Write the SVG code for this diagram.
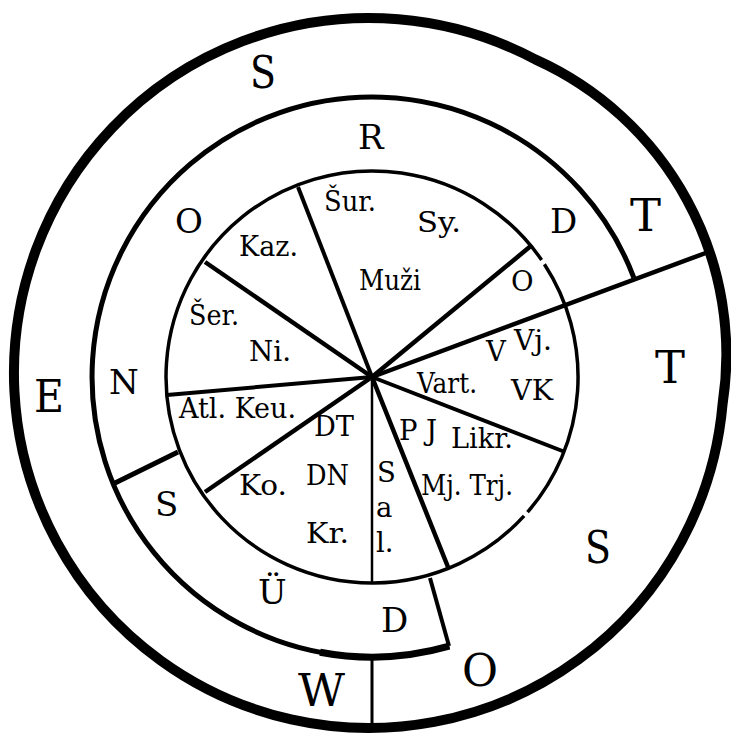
<svg xmlns="http://www.w3.org/2000/svg" width="731" height="735" viewBox="0 0 731 735">
<style>
text{font-family:"DejaVu Serif","Liberation Serif",serif;fill:#000}
.o{font-size:44px}
.m{font-size:34px}
.i{font-size:27.5px}
.ln{stroke:#000;fill:none;stroke-linecap:butt}
</style>
<rect width="731" height="735" fill="#fff"/>
<g id="rings">
<path class="ln" d="M722.6 403.9 A323.7 323.7 0 0 0 535.7 59.6 A355 355 0 1 0 722.6 403.9 Z" stroke-width="10"/>
<path class="ln" d="M633.8 277.6 A280 280 0 1 0 449.2 646.2" stroke-width="5"/>
<path class="ln" d="M320 652.2 A280 280 0 0 0 449.2 646.2" stroke-width="7" stroke-linecap="round"/>
<path class="ln" d="M544.4 264.2 A206 206 0 0 1 527.5 512.2" stroke-width="3.5"/>
<path class="ln" d="M524.1 515.9 A206 206 0 1 1 541.6 260" stroke-width="3.5"/>
</g>
<g id="connectors">
<line class="ln" x1="372" y1="377" x2="298" y2="187" stroke-width="4"/>
<line class="ln" x1="372" y1="377" x2="205" y2="262" stroke-width="4.5"/>
<line class="ln" x1="372" y1="377" x2="167" y2="395" stroke-width="4"/>
<line class="ln" x1="372" y1="377" x2="205" y2="492" stroke-width="4.5"/>
<line class="ln" x1="372" y1="377" x2="372" y2="584" stroke-width="2.5"/>
<line class="ln" x1="372" y1="377" x2="448" y2="567" stroke-width="4.5"/>
<line class="ln" x1="372" y1="377" x2="565" y2="452" stroke-width="4"/>
<line class="ln" x1="372" y1="377" x2="532" y2="245" stroke-width="4.5"/>
<line class="ln" x1="372" y1="377" x2="711" y2="251" stroke-width="4.5"/>
<line class="ln" x1="115" y1="483" x2="178" y2="452" stroke-width="5"/>
<line class="ln" x1="430" y1="578" x2="449" y2="646" stroke-width="4"/>
<line class="ln" x1="372" y1="658" x2="372" y2="728" stroke-width="3"/>
</g>
<g id="outer-labels">
<text class="o" x="250" y="88" textLength="26" lengthAdjust="spacingAndGlyphs">S</text>
<text class="o" x="630" y="231" textLength="31" lengthAdjust="spacingAndGlyphs">T</text>
<text class="o" x="655" y="383" textLength="30" lengthAdjust="spacingAndGlyphs">T</text>
<text class="o" x="34" y="412" textLength="30" lengthAdjust="spacingAndGlyphs">E</text>
<text class="o" x="585" y="563" textLength="26" lengthAdjust="spacingAndGlyphs">S</text>
<text class="o" x="462" y="686" textLength="36" lengthAdjust="spacingAndGlyphs">O</text>
<text class="o" x="298" y="706" textLength="47" lengthAdjust="spacingAndGlyphs">W</text>
</g>
<g id="middle-labels">
<text class="m" x="358" y="149">R</text>
<text class="m" x="175" y="233">O</text>
<text class="m" x="550" y="233">D</text>
<text class="m" x="109" y="394">N</text>
<text class="m" x="155" y="516">S</text>
<text class="m" x="258" y="604">Ü</text>
<text class="m" x="381" y="632">D</text>
</g>
<g id="inner-labels">
<text class="i" x="324" y="211" textLength="52" lengthAdjust="spacingAndGlyphs">Šur.</text>
<text class="i" x="417" y="232" textLength="44" lengthAdjust="spacingAndGlyphs">Sy.</text>
<text class="i" x="239" y="256" textLength="59" lengthAdjust="spacingAndGlyphs">Kaz.</text>
<text class="i" x="359" y="290" textLength="62" lengthAdjust="spacingAndGlyphs">Muži</text>
<text class="i" x="511" y="291">O</text>
<text class="i" x="189" y="325" textLength="50" lengthAdjust="spacingAndGlyphs">Šer.</text>
<text class="i" x="249" y="361" textLength="42" lengthAdjust="spacingAndGlyphs">Ni.</text>
<text class="i" x="486" y="361">V</text>
<text class="i" x="514" y="350" textLength="38" lengthAdjust="spacingAndGlyphs">Vj.</text>
<text class="i" x="417" y="393" textLength="60" lengthAdjust="spacingAndGlyphs">Vart.</text>
<text class="i" x="511" y="400" textLength="42" lengthAdjust="spacingAndGlyphs">VK</text>
<text class="i" x="179" y="418" textLength="117" lengthAdjust="spacingAndGlyphs">Atl. Keu.</text>
<text class="i" x="314" y="436" textLength="40" lengthAdjust="spacingAndGlyphs">DT</text>
<text class="i" x="399" y="440">P</text>
<text class="i" x="426" y="440">J</text>
<text class="i" x="451" y="448" textLength="62" lengthAdjust="spacingAndGlyphs">Likr.</text>
<text class="i" x="306" y="485" textLength="43" lengthAdjust="spacingAndGlyphs">DN</text>
<text class="i" x="377" y="482">S</text>
<text class="i" x="239" y="495" textLength="48" lengthAdjust="spacingAndGlyphs">Ko.</text>
<text class="i" x="421" y="495" textLength="92" lengthAdjust="spacingAndGlyphs">Mj. Trj.</text>
<text class="i" x="376" y="517">a</text>
<text class="i" x="306" y="543" textLength="43" lengthAdjust="spacingAndGlyphs">Kr.</text>
<text class="i" x="376" y="552">l.</text>
</g>
</svg>
